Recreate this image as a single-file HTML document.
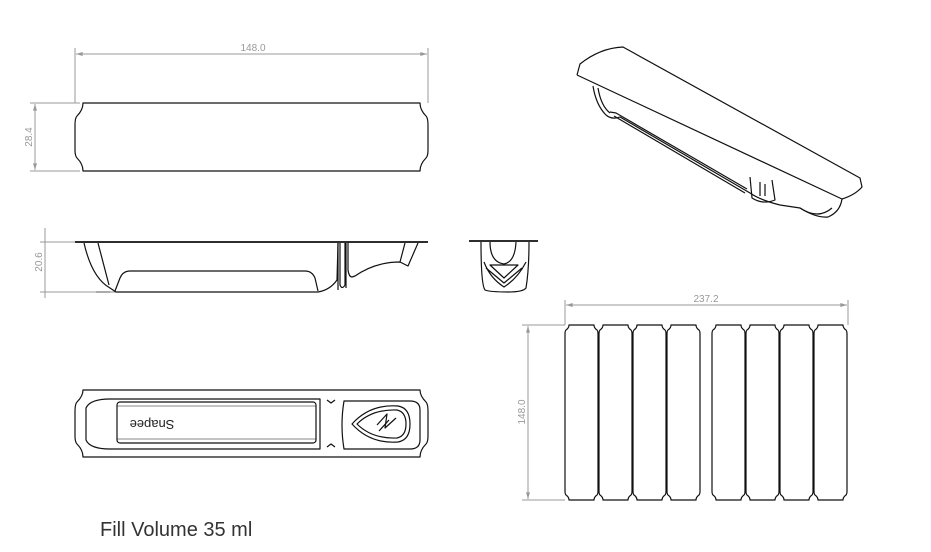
<!DOCTYPE html>
<html><head><meta charset="utf-8"><style>
html,body{margin:0;padding:0;background:#fff;}
svg{display:block;}
text{font-family:"Liberation Sans",sans-serif;}
</style></head><body>
<svg width="931" height="552" viewBox="0 0 931 552" xmlns="http://www.w3.org/2000/svg">
<defs>
<marker id="a" viewBox="0 0 10 6" refX="10" refY="3" markerWidth="8" markerHeight="4" orient="auto-start-reverse"><path d="M0,0L10,3L0,6Z" fill="#999"/></marker>
</defs>
<g stroke="#999" stroke-width="1" fill="none">
<!-- top view dims -->
<line x1="75" y1="48" x2="75" y2="103"/><line x1="428" y1="48" x2="428" y2="103"/>
<line x1="76" y1="54" x2="427" y2="54" marker-start="url(#a)" marker-end="url(#a)"/>
<line x1="30" y1="103" x2="80" y2="103"/><line x1="30" y1="171" x2="80" y2="171"/>
<line x1="35" y1="104" x2="35" y2="170" marker-start="url(#a)" marker-end="url(#a)"/>
<!-- side dims -->
<line x1="40" y1="242" x2="75" y2="242"/><line x1="40" y1="292" x2="110" y2="292"/>
<line x1="45" y1="228" x2="45" y2="298"/>
<!-- layout dims -->
<line x1="565" y1="300" x2="565" y2="325"/><line x1="848" y1="300" x2="848" y2="325"/>
<line x1="566" y1="305" x2="847" y2="305" marker-start="url(#a)" marker-end="url(#a)"/>
<line x1="522" y1="325" x2="565" y2="325"/><line x1="522" y1="500" x2="565" y2="500"/>
<line x1="528" y1="326" x2="528" y2="499" marker-start="url(#a)" marker-end="url(#a)"/>
</g>
<g fill="#999" font-size="10">
<text x="253" y="51" text-anchor="middle">148.0</text>
<text transform="translate(32,137) rotate(-90)" text-anchor="middle">28.4</text>
<text transform="translate(42,262) rotate(-90)" text-anchor="middle">20.6</text>
<text x="706" y="302" text-anchor="middle">237.2</text>
<text transform="translate(525,412) rotate(-90)" text-anchor="middle">148.0</text>
</g>
<g stroke="#111" stroke-width="1.2" fill="none" stroke-linejoin="round">
<!-- top view -->
<path d="M83,103 H420 Q420,110 426,116 Q428,118 428,125 V150 Q428,156 426,158 Q420,164 420,171 H83 Q83,164 77,158 Q75,156 75,150 V125 Q75,118 77,116 Q83,110 83,103 Z"/>
<!-- side view -->
<line x1="75" y1="242" x2="428" y2="242" stroke-width="1.8"/>
<path d="M84,243 Q92,278 110,288 L116,292 H318 Q330,290 337,280 L338,243"/>
<path d="M98,243 L109,285"/>
<path d="M115,291 L120,278 Q123,271 130,271 H305 Q312,271 315,278 L318,291"/>
<path d="M338,243 V290"/><path d="M340,243 V285 Q342,290 345,285 V243"/><path d="M346,243 V288"/>
<path d="M348,243 V270 Q349,277 352,277 L355,276 Q375,262 400,262 L408,266 L418,243"/>
<path d="M400,262 L405,243"/>
<path d="M96,292 H300" stroke-width="0.6"/>
<!-- end view -->
<line x1="469" y1="241" x2="538" y2="241" stroke-width="1.8"/>
<path d="M481,242 Q481,285 485,290 Q490,292 508,292 Q523,292 526,288 Q529,270 529,242"/>
<path d="M490,242 Q490,262 504,264 Q515,262 516,242"/>
<path d="M484,262 Q490,278 504,287 Q518,278 526,262"/>
<path d="M490,265 L504,278 L518,265 Z"/><path d="M486,268 L504,283 L522,268"/>
<!-- bottom view -->
<path d="M83,390 H420 Q420,396 426,402 Q428,404 428,411 V436 Q428,442 426,444 Q420,450 420,457 H83 Q83,450 77,444 Q75,442 75,436 V411 Q75,404 77,402 Q83,396 83,390 Z"/>
<path d="M110,399 H320 V449 H110 Q90,449 86,440 V408 Q90,399 110,399 Z"/>
<rect x="117" y="402" width="199" height="41" rx="3"/>
<line x1="117" y1="406" x2="316" y2="406" stroke-width="0.6"/><line x1="117" y1="439" x2="316" y2="439" stroke-width="0.6"/>
<path d="M327,400 L331,403 L335,400"/><path d="M327,447 L331,444 L335,447"/>
<path d="M344,401 H410 Q420,401 420,410 V440 Q420,449 410,449 H344 Q340,425 344,401 Z"/>
<path d="M352,424 Q370,404 398,406 Q410,408 410,424 Q410,440 398,442 Q370,444 352,424 Z"/>
<path d="M357,424 Q372,409 397,410 Q406,412 406,424 Q406,436 397,438 Q372,439 357,424 Z"/>
<path d="M377,425 L387,414 L385,428 L396,418"/><path d="M379,431 L389,420"/>
<!-- isometric -->
<path d="M577,75 L580,64 Q600,48 623,47 L860,178 L862,187 Q855,195 842,199 L577,75"/>
<path d="M593,86 Q596,105 606,115 Q612,120 620,117 L750,193 Q760,200 780,205 L800,208 Q816,218 828,217 Q840,212 842,199"/>
<path d="M610,112 L616,113 L747,189"/>
<path d="M614,116 L745,193"/>
<path d="M598,88 Q601,106 610,113"/>
<path d="M750,177 L752,198 Q763,205 775,200 L772,180"/>
<path d="M760,182 V196"/><path d="M765,184 V196"/>
<path d="M800,208 Q818,220 832,208"/>
<!-- layout strips -->
<g id="s">
<path d="M569,325 H594 Q594,328 597,330 Q598,331 598,334 V491 Q598,494 597,495 Q594,497 594,500 H569 Q569,497 566,495 Q565,494 565,491 V334 Q565,331 566,330 Q569,328 569,325 Z"/>
</g>
<use href="#s" x="34"/><use href="#s" x="68"/><use href="#s" x="102"/>
<use href="#s" x="147"/><use href="#s" x="181"/><use href="#s" x="215"/><use href="#s" x="249"/>
</g>
<text x="348" y="425" font-size="8" fill="#222" transform="rotate(180 150 424)" font-weight="bold" style="display:none">Snapee</text>
<text x="148" y="428" font-size="13" fill="#222" text-anchor="middle" transform="rotate(180 150 424)">Snapee</text>
<text x="100" y="536" font-size="20" fill="#333">Fill Volume 35 ml</text>
</svg>
</body></html>
